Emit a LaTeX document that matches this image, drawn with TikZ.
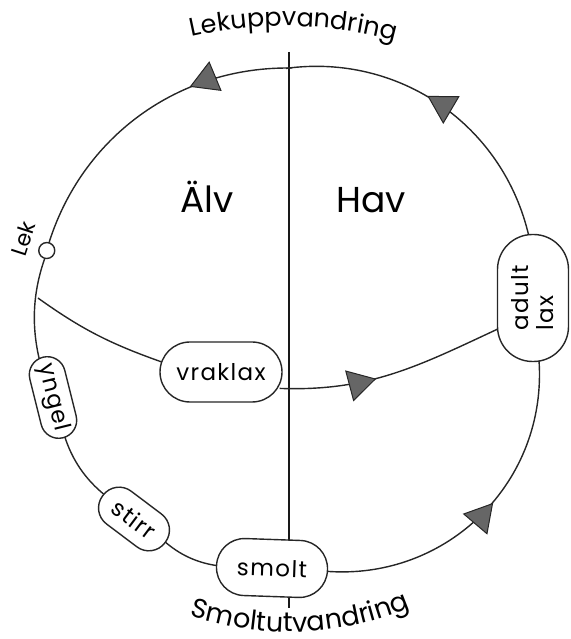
\documentclass[tikz,border=0pt]{standalone}
\usepackage{fontspec}
\setmainfont{Poppins}
\newfontfamily\stagefont{Poppins}[LetterSpace=6]
\usetikzlibrary{arrows.meta,decorations.markings,decorations.text,calc,backgrounds}
\begin{document}
\begin{tikzpicture}[x=1pt,y=1pt,
  ring/.style={line width=1.4pt, draw=black!85},
  tuck/.style={shorten <=-3pt, shorten >=-3pt},
  divider/.style={line width=2.2pt, draw=black!90},
  stage/.style={rectangle, draw=black!85, line width=1.4pt, fill=white, inner sep=0pt,
    font=\stagefont\fontsize{23}{25}\selectfont},
  lekdot/.style={circle, draw=black!85, line width=1.4pt, fill=white, minimum size=16pt, inner sep=0pt},
  fwd/.style={postaction={decorate}, decoration={markings, mark=at position #1 with
    {\arrow{Triangle[length=28pt,width=32pt,fill=black!60,line width=1pt]}}}},
  region/.style={font=\fontsize{36}{42}\selectfont, anchor=base},
  arctext/.style={decorate, decoration={text along path, text align=center, text={#1}}},
]
\useasboundingbox (0,0) rectangle (570,639);
\coordinate (C) at (289,319);
\coordinate (vtop) at (289,587);
\coordinate (vbot) at (289,31);

% region labels
\node[region] (alv) at (207,426) {Älv};
\node[region] (hav) at (371,426) {Hav};

% stage nodes
\node[lekdot] (lek) at ($(C)+(164:252)$) {};
\coordinate (branch) at ($(C)+(175:252)$);
\coordinate (top) at ($(C)+(90:252)$);
\node[stage, minimum width=83pt, minimum height=36pt, rounded corners=18pt, rotate=-76] (yngel) at (53,241.5) {yngel};
\node[stage, minimum width=78pt, minimum height=41pt, rounded corners=20pt, rotate=-37] (stirr) at (134,120) {stirr};
\node[stage, minimum width=111pt, minimum height=57pt, rounded corners=28pt, rotate=-2] (smolt) at (272,71) {smolt};
\node[stage, minimum width=127pt, minimum height=71pt, rounded corners=35pt, rotate=90, align=left] (adult) at (533,341) {adult\\lax};
\node[stage, minimum width=122pt, minimum height=60pt, rounded corners=30pt] (vraklax) at (221,267) {vraklax};

\node[rotate=72, font=\fontsize{22}{26}\selectfont] (leklabel) at (23,400) {Lek};

% curved titles
\path[arctext={|\fontsize{25.5}{30}\selectfont|Lekuppvandring}]
  ($(285,193)+(108.8:420)$) arc[start angle=108.8, end angle=68.8, radius=420];
\path[arctext={|\fontsize{27}{30}\selectfont|Smoltutvandring}]
  ($(C)+(242.2:312)$) arc[start angle=242.2, end angle=302.2, radius=312];

\begin{pgfonlayer}{background}
\draw[divider] (vtop) -- (vbot);
\draw[ring, tuck] (lek) to[bend right=17, looseness=0.87] (yngel);
\draw[ring, tuck] (yngel) to[bend right=17, looseness=0.87] (stirr);
\draw[ring, tuck] (stirr) to[bend right=17, looseness=0.87] (smolt);
\draw[ring, tuck, fwd=0.55] (smolt) to[bend right=49.5, looseness=1.03] (adult);
\draw[ring, tuck, fwd=0.55] (adult) to[bend right=42.5, looseness=0.98] (top);
\draw[ring, tuck, fwd=0.32] (top) to[bend right=37, looseness=0.95] (lek);
\draw[ring, shorten >=-3pt] (branch) to[bend right=8] (vraklax.170);
\draw[ring, tuck, fwd=0.42] (vraklax.-15) to[out=-2, in=205] (adult.131);
\end{pgfonlayer}
\end{tikzpicture}
\end{document}
